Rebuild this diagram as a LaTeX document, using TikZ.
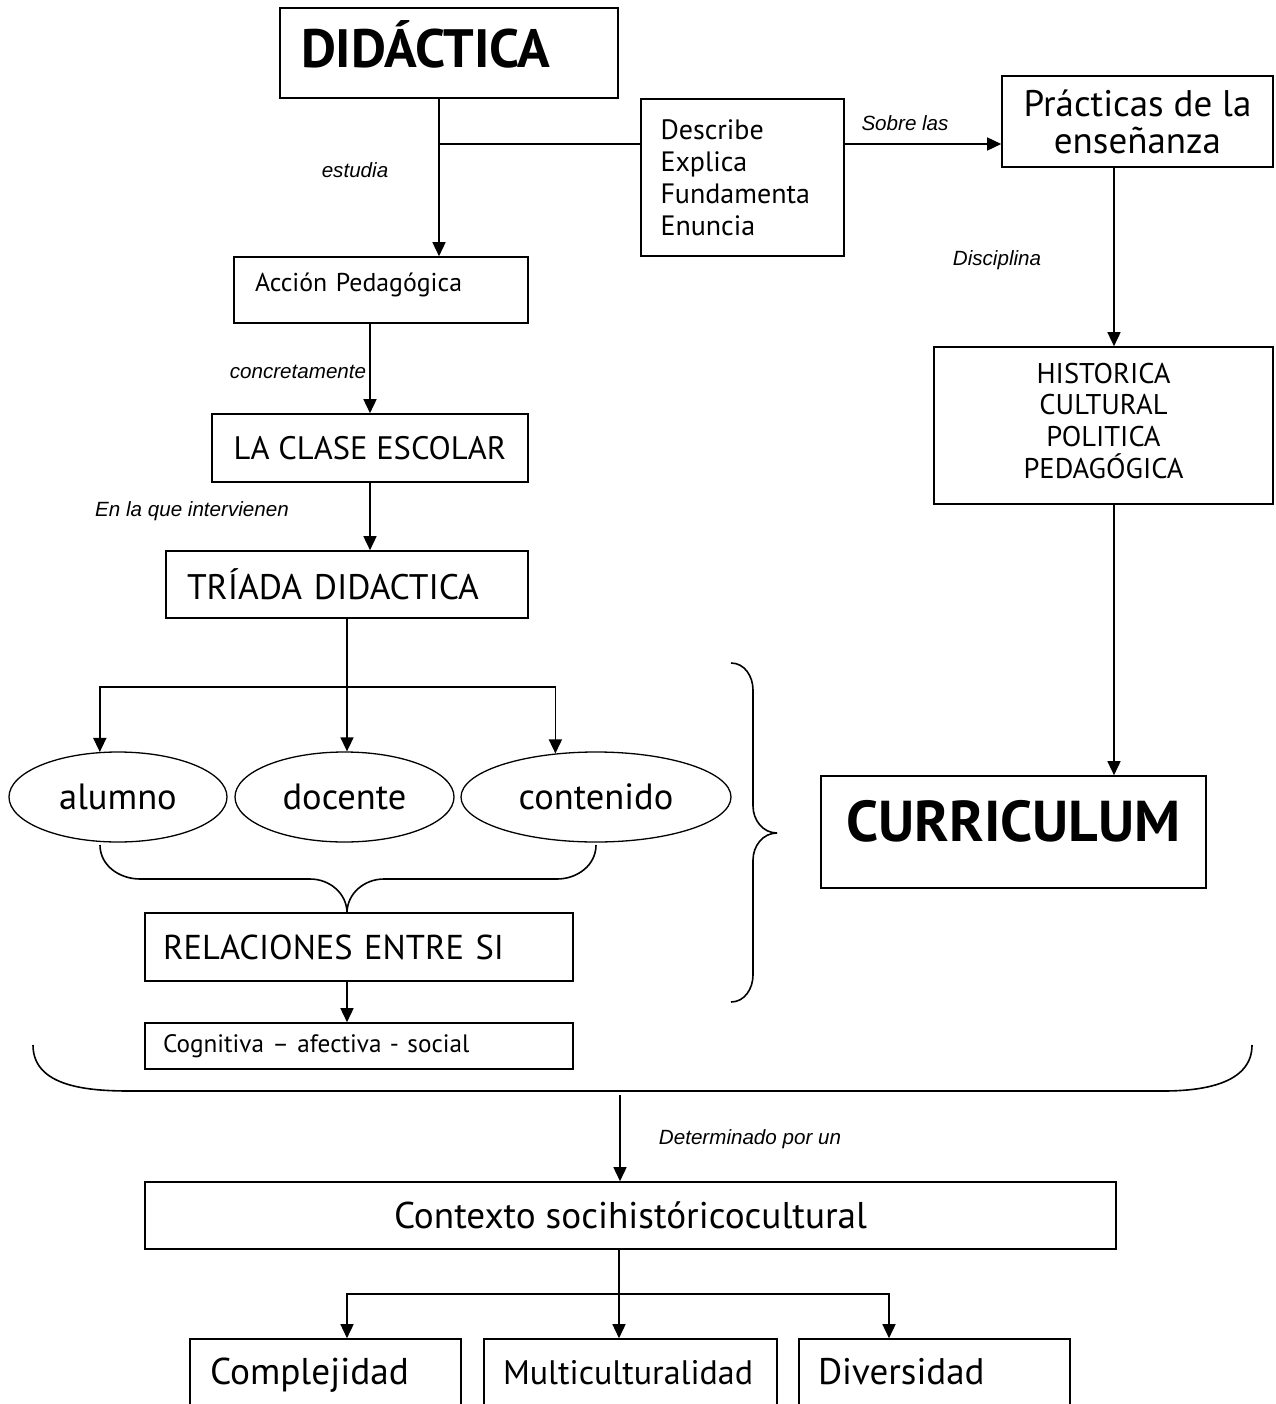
\documentclass[tikz,border=0pt]{standalone}
\usepackage{fontspec}
\setmainfont{PT Sans}
\newfontfamily\etiqfont{Liberation Sans}
\usetikzlibrary{shapes.geometric,arrows.meta}

\begin{document}
\begin{tikzpicture}[x=1pt, y=-1pt,
    caja/.style={draw, line width=1.6pt, inner sep=0pt},
    elip/.style={draw, ellipse, line width=1.3pt, inner sep=0pt, minimum height=90pt, font=\fontsize{36.5}{36.5}\selectfont},
    etiq/.style={inner sep=0pt, font=\etiqfont\itshape\fontsize{20.6}{20.6}\selectfont},
    flecha/.style={line width=1.5pt, -{Triangle[length=14pt,width=13pt]}},
    linea/.style={line width=1.5pt},
    llave/.style={line width=1.6pt}]
      \useasboundingbox[fill=white] (0,0) rectangle (1275,1404);

      \node[caja, minimum width=338pt, minimum height=90pt, text width=296pt, align=left, text height=37pt, text depth=7pt, font=\bfseries\fontsize{54}{54}\selectfont] (did) at (449,53) {DIDÁCTICA};
      \node[caja, minimum width=203pt, minimum height=157pt, text width=164pt, align=left, font=\fontsize{28}{32}\selectfont] (desc) at (742.5,177.5) {Describe\\Explica\\Fundamenta\\Enuncia\\[-6pt]};
      \node[caja, minimum width=271pt, minimum height=91pt, align=center, font=\fontsize{37}{37}\selectfont] (prac) at (1137.5,121.5) {Prácticas de la\\enseñanza};
      \node[caja, minimum width=339pt, minimum height=157pt, align=center, font=\fontsize{28.5}{31.7}\selectfont] (hist) at (1103.5,425.5) {HISTORICA\\CULTURAL\\POLITICA\\PEDAGÓGICA\\[-22pt]};
      \node[caja, minimum width=385pt, minimum height=112pt, text height=40pt, text depth=22pt, font=\bfseries\fontsize{57.6}{57.6}\selectfont] (curr) at (1013.5,832) {CURRICULUM};

      \node[caja, minimum width=294pt, minimum height=66pt, text width=252pt, align=left, text height=18pt, text depth=14pt, font=\fontsize{25.8}{25.8}\selectfont] (acc) at (381,290) {Acción Pedagógica};
      \node[caja, minimum width=316pt, minimum height=68pt, font=\fontsize{32.5}{32.5}\selectfont] (clase) at (370,448) {LA CLASE ESCOLAR};
      \node[caja, minimum width=362pt, minimum height=67pt, text width=320pt, align=left, font=\fontsize{35.5}{35.5}\selectfont] (tri) at (347,584.5) {TRÍADA DIDACTICA};

      \node[elip, minimum width=218pt] (alu) at (118,797) {alumno};
      \node[elip, minimum width=219pt] (doc) at (344.5,797) {docente};
      \node[elip, minimum width=270pt] (con) at (596,797) {contenido};

      \node[caja, minimum width=428pt, minimum height=68pt, text width=392pt, align=left, font=\fontsize{34.5}{34.5}\selectfont] (rel) at (359,947) {RELACIONES ENTRE SI};
      \node[caja, minimum width=428pt, minimum height=46pt, text width=392pt, align=left, font=\fontsize{25.2}{25.2}\selectfont] (cog) at (359,1046) {Cognitiva – afectiva - social};

      \node[caja, minimum width=971pt, minimum height=67pt, font=\fontsize{37.2}{37.2}\selectfont] (ctx) at (630.5,1215.5) {Contexto socihistóricocultural};
      \node[caja, minimum width=271pt, minimum height=70pt, text width=231pt, align=left, text height=25pt, text depth=5pt, font=\fontsize{37.3}{37.3}\selectfont] (com) at (325.5,1374) {Complejidad};
      \node[caja, minimum width=293pt, minimum height=70pt, text width=255pt, align=left, text height=25pt, text depth=5pt, font=\fontsize{34}{34}\selectfont] (mul) at (630.5,1374) {Multiculturalidad};
      \node[caja, minimum width=271pt, minimum height=70pt, text width=233pt, align=left, text height=25pt, text depth=5pt, font=\fontsize{37}{37}\selectfont] (div) at (934.5,1374) {Diversidad};

      \node[etiq] (lestud) at (355,170) {estudia};
      \node[etiq] (lsobre) at (905,123) {Sobre las};
      \node[etiq] (ldisc) at (997,260) {Disciplina};
      \node[etiq] (lconc) at (298,372) {concretamente};
      \node[etiq] (linter) at (192,511) {En la que intervienen};
      \node[etiq] (ldet) at (750,1139) {Determinado por un};

      \coordinate (split) at (439,144);
      \coordinate (rstem) at (1114,144);
      \coordinate (fork) at (347,687);
      \coordinate (bot) at (620,1095);
      \coordinate (low) at (619,1294);

      \draw[flecha] (did.south -| split) -- (acc.north -| split);
      \draw[linea] (split) -- (split -| desc.west);
      \draw[flecha] (split -| desc.east) -- (split -| prac.west);
      \draw[flecha] (prac.south -| rstem) -- (hist.north -| rstem);
      \draw[flecha] (hist.south -| rstem) -- (curr.north -| rstem);

      \draw[flecha] (acc.south -| clase) -- (clase.north);
      \draw[flecha] (clase.south) -- (clase.south |- tri.north);
      \draw[flecha] (tri.south) -- (tri.south |- doc.north);
      \draw[flecha] (fork) -| (alu.112);
      \draw[flecha] (fork) -| (con.133);
      \draw[flecha] (rel.south -| fork) -- (cog.north -| fork);

      \draw[llave] (100,845) to[out=-90,in=180] (140,879) -- (310,879) to[out=0,in=90] (347,913);
      \draw[llave] (596,845) to[out=-90,in=0] (557,879) -- (384,879) to[out=180,in=90] (347,913);
      \draw[llave] (731,663) to[out=0,in=90] (753,690) -- (753,806) to[out=-90,in=180] (777,833);
      \draw[llave] (731,1002) to[out=0,in=-90] (753,975) -- (753,860) to[out=90,in=180] (777,833);
      \draw[llave] (33,1045) to[out=-90,in=180] (130,1091) -- (1163,1091) to[out=0,in=-90] (1252,1045);

      \draw[flecha] (bot) -- (bot |- ctx.north);
      \draw[linea] (ctx.south -| low) -- (low);
      \draw[flecha] (low) -- (low |- mul.north);
      \draw[flecha] (low) -| ([xshift=21.5pt]com.north);
      \draw[flecha] (low) -| ([xshift=-45.5pt]div.north);
    \end{tikzpicture}
\end{document}
